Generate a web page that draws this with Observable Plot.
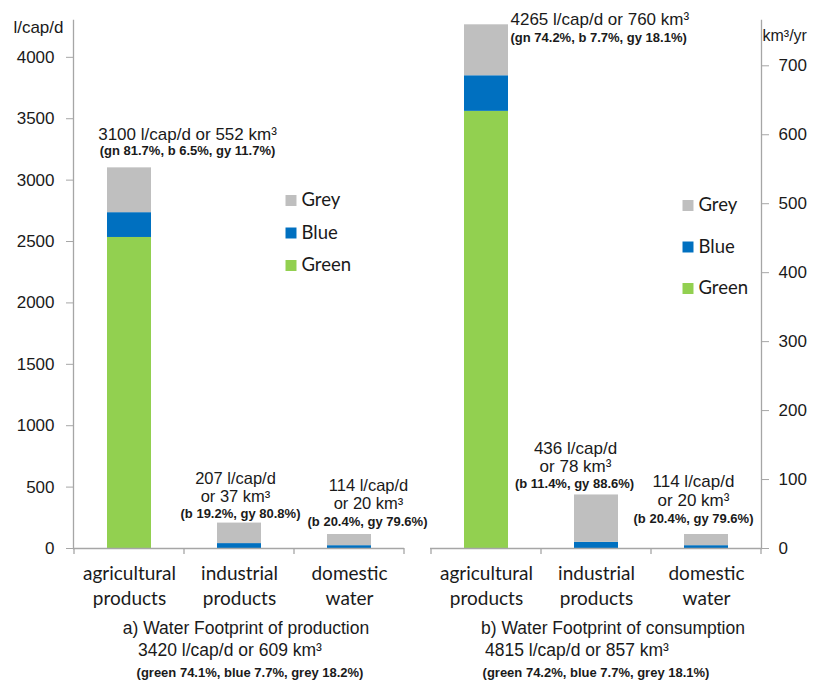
<!DOCTYPE html>
<html>
<head>
<meta charset="utf-8">
<script src="https://cdn.jsdelivr.net/npm/d3@7"></script>
<script src="https://cdn.jsdelivr.net/npm/@observablehq/plot@0.6"></script>
<style>
  html, body { margin: 0; padding: 0; background: #fff; }
  #chart svg { display: block; }
</style>
</head>
<body>
<div id="chart"></div>
<script>
// Panels: a) water footprint of production, b) water footprint of consumption
const panels = ["a", "b"];
const categories = ["agricultural products", "industrial products", "domestic water"];
const categoryLabels = ["agricultural\nproducts", "industrial\nproducts", "domestic\nwater"];
const components = ["Green", "Blue", "Grey"];
const componentColors = ["#92d050", "#0070c0", "#bfbfbf"];

// Component footprints in l/cap/d, one value per category
const productionGreen = [2533, 0, 0];
const productionBlue = [202, 40, 23];
const productionGrey = [365, 167, 91];
const consumptionGreen = [3560, 0, 0];
const consumptionBlue = [290, 50, 23];
const consumptionGrey = [415, 386, 91];

// Category totals (l/cap/d and km³/yr)
const productionTotal = [3100, 207, 114];
const productionKm3 = [552, 37, 20];
const consumptionTotal = [4265, 436, 114];
const consumptionKm3 = [760, 78, 20];

const productionShares = ["(gn 81.7%, b 6.5%, gy 11.7%)", "(b 19.2%, gy 80.8%)", "(b 20.4%, gy 79.6%)"];
const consumptionShares = ["(gn 74.2%, b 7.7%, gy 18.1%)", "(b 11.4%, gy 88.6%)", "(b 20.4%, gy 79.6%)"];

// Panel totals
const panelTitles = ["a) Water Footprint of production", "b) Water Footprint of consumption"];
const panelTotalLcd = [3420, 4815];
const panelTotalKm3 = [609, 857];
const panelShares = ["(green 74.1%, blue 7.7%, grey 18.2%)", "(green 74.2%, blue 7.7%, grey 18.1%)"];

// Axis ticks
const lcdTicks = [0, 500, 1000, 1500, 2000, 2500, 3000, 3500, 4000];
const km3Ticks = [0, 100, 200, 300, 400, 500, 600, 700];

// ---- derived tables ----
const km3PerLcd = panelTotalKm3[0] / panelTotalLcd[0];
const series = {
  a: [productionGreen, productionBlue, productionGrey],
  b: [consumptionGreen, consumptionBlue, consumptionGrey]
};
const totals = {a: productionTotal, b: consumptionTotal};
const totalsKm3 = {a: productionKm3, b: consumptionKm3};
const shares = {a: productionShares, b: consumptionShares};

const bars = panels.flatMap((p) =>
  components.flatMap((comp, j) =>
    categories.map((cat, i) => ({panel: p, category: cat, component: comp, value: series[p][j][i]}))
  )
);

const annotations = panels.flatMap((p) =>
  categories.map((cat, i) => ({
    key: p + i,
    panel: p,
    category: cat,
    total: totals[p][i],
    main: i === 0
      ? `${totals[p][i]} l/cap/d or ${totalsKm3[p][i]} km³`
      : `${totals[p][i]} l/cap/d\nor ${totalsKm3[p][i]} km³`,
    share: shares[p][i]
  }))
);

// ---- layout & styles ----
const axisColor = "#a6a6a6";
const textColor = "#1a1a1a";
const sansFont = "'Liberation Sans', Arial, sans-serif";
const labelFont = "Lato, 'Open Sans', sans-serif";

const annotationLayout = {
  a0: {dxMain: 58, dxShare: 58, dyMain: -34, dyShare: -17, anchor: "middle", size: 17},
  a1: {dxMain: -4, dxShare: 1, dyMain: -36, dyShare: -9, anchor: "middle", size: 16.5},
  a2: {dxMain: 19, dxShare: 18, dyMain: -40, dyShare: -13, anchor: "middle", size: 16.5},
  b0: {dxMain: 24, dxShare: 24, dyMain: -6, dyShare: 13, anchor: "start", size: 17},
  b1: {dxMain: -21, dxShare: -22, dyMain: -38, dyShare: -11, anchor: "middle", size: 17},
  b2: {dxMain: -13, dxShare: -13, dyMain: -44, dyShare: -16, anchor: "middle", size: 17}
};
const legendLayout = {a: {dx: 217.5, dy: 180, gap: 32.5}, b: {dx: 257.5, dy: 185, gap: 41.5}};
const footerLayout = {
  a: {title: 7, total: -9, share: 11},
  b: {title: 17, total: -19, share: 0}
};

// Small ticks on the baseline between categories
function bandEdgeTicks(index, scales) {
  const x = scales.x;
  const step = typeof x.step === "function" ? x.step() : scales.scales.x.step;
  const bw = typeof x.bandwidth === "function" ? x.bandwidth() : scales.scales.x.bandwidth;
  const y0 = scales.y(0);
  const half = (step - bw) / 2;
  const edges = [x(categories[0]) - half, ...categories.map((c) => x(c) + bw + half)];
  const g = d3.create("svg:g").attr("stroke", axisColor).attr("stroke-width", 1.3);
  g.selectAll("line").data(edges).join("line")
    .attr("x1", (d) => d).attr("x2", (d) => d)
    .attr("y1", y0).attr("y2", y0 + 6);
  return g.node();
}

const marks = [
  Plot.barY(bars, {
    fx: "panel", x: "category", y: "value",
    fill: {value: "component", scale: "color"}, order: components
  }),
  Plot.ruleY([0], {stroke: axisColor, strokeWidth: 1.3}),
  Plot.frame({anchor: "left", facetAnchor: "left", stroke: axisColor, strokeWidth: 1.3}),
  Plot.frame({anchor: "right", facetAnchor: "right", stroke: axisColor, strokeWidth: 1.3}),
  bandEdgeTicks,
  Plot.axisY({
    anchor: "left", ticks: lcdTicks, tickFormat: (v) => String(v), tickSize: 7, tickPadding: 12,
    stroke: axisColor, fill: textColor, fontSize: 17, fontFamily: sansFont, label: null
  }),
  Plot.axisY({
    anchor: "right", ticks: km3Ticks.map((v) => v / km3PerLcd),
    tickFormat: (v) => String(Math.round(v * km3PerLcd)),
    tickSize: 7, tickPadding: 10,
    stroke: axisColor, fill: textColor, fontSize: 17, fontFamily: sansFont, label: null
  }),
  Plot.axisX({
    ticks: categories, tickSize: 0, tickPadding: 14,
    tickFormat: (c) => categoryLabels[categories.indexOf(c)],
    fill: textColor, fontSize: 19, fontFamily: labelFont, lineHeight: 1.3, label: null
  }),
  // unit labels
  Plot.text([{panel: "a"}], {
    fx: "panel", frameAnchor: "top-left", text: () => "l/cap/d", textAnchor: "end", lineAnchor: "middle",
    dx: -10, dy: 7, fontSize: 17, fontFamily: sansFont, fill: textColor
  }),
  Plot.text([{panel: "b"}], {
    fx: "panel", frameAnchor: "top-right", text: () => "km³/yr", textAnchor: "start", lineAnchor: "middle",
    dx: 1, dy: 15, fontSize: 16, fontFamily: sansFont, fill: textColor
  })
];

// value labels above each bar
for (const d of annotations) {
  const L = annotationLayout[d.key];
  marks.push(
    Plot.text([d], {
      fx: "panel", x: "category", y: "total", text: "main",
      textAnchor: L.anchor, dx: L.dxMain, dy: L.dyMain, lineHeight: 1.1,
      fontSize: L.size, fontFamily: sansFont, fill: textColor
    }),
    Plot.text([d], {
      fx: "panel", x: "category", y: "total", text: "share",
      textAnchor: L.anchor, dx: L.dxShare, dy: L.dyShare,
      fontSize: 13, fontWeight: "bold", fontFamily: sansFont, fill: textColor
    })
  );
}

// legends (top to bottom: Grey, Blue, Green)
for (const p of panels) {
  const L = legendLayout[p];
  components.slice().reverse().forEach((comp, k) => {
    const color = componentColors[components.indexOf(comp)];
    marks.push(
      Plot.dot([{panel: p}], {
        fx: "panel", frameAnchor: "top-left", dx: L.dx, dy: L.dy + k * L.gap,
        symbol: "square", r: 6.2, fill: color, stroke: null
      }),
      Plot.text([{panel: p}], {
        fx: "panel", frameAnchor: "top-left", dx: L.dx + 10.5, dy: L.dy + k * L.gap,
        text: () => comp, textAnchor: "start", lineAnchor: "middle",
        fontSize: 18.5, fontFamily: labelFont, fill: textColor
      })
    );
  });
}

// panel captions
panels.forEach((p, i) => {
  const F = footerLayout[p];
  marks.push(
    Plot.text([{panel: p}], {
      fx: "panel", frameAnchor: "bottom", text: () => panelTitles[i], lineAnchor: "middle",
      dx: F.title, dy: 80, fontSize: 17.5, fontFamily: sansFont, fill: textColor
    }),
    Plot.text([{panel: p}], {
      fx: "panel", frameAnchor: "bottom", lineAnchor: "middle",
      text: () => `${panelTotalLcd[i]} l/cap/d or ${panelTotalKm3[i]} km³`,
      dx: F.total, dy: 102, fontSize: 17.5, fontFamily: sansFont, fill: textColor
    }),
    Plot.text([{panel: p}], {
      fx: "panel", frameAnchor: "bottom", text: () => panelShares[i], lineAnchor: "middle",
      dx: F.share, dy: 124, fontSize: 13, fontWeight: "bold", fontFamily: sansFont, fill: textColor
    })
  );
});

const chart = Plot.plot({
  width: 814,
  height: 684,
  marginLeft: 72,
  marginRight: 52,
  marginTop: 20,
  marginBottom: 136,
  style: {background: "#fff", color: textColor, fontFamily: sansFont},
  fx: {domain: panels, paddingInner: 0.0726, paddingOuter: 0, axis: null, label: null},
  x: {domain: categories, paddingInner: 0.6, paddingOuter: 0.3},
  y: {domain: [0, 4300]},
  color: {domain: components, range: componentColors},
  marks
});

document.getElementById("chart").append(chart);
</script>
</body>
</html>
